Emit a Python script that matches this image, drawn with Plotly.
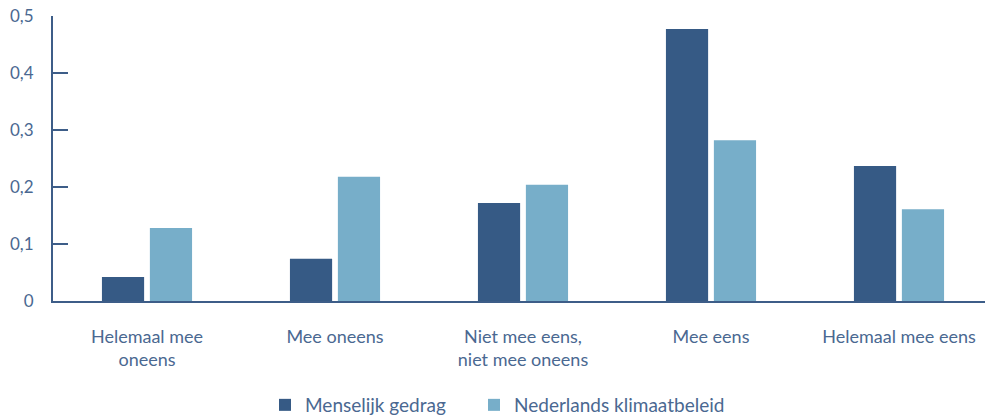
import plotly.graph_objects as go

categories = [
    "Helemaal mee<br>oneens",
    "Mee oneens",
    "Niet mee eens,<br>niet mee oneens",
    "Mee eens",
    "Helemaal mee eens",
]
menselijk_gedrag = [0.042, 0.074, 0.172, 0.477, 0.237]
nl_klimaatbeleid = [0.128, 0.218, 0.204, 0.282, 0.161]

tick_vals = [0, 0.1, 0.2, 0.3, 0.4, 0.5]
tick_text = ["0", "0,1", "0,2", "0,3", "0,4", "0,5"]

DARK = "#365a85"
LIGHT = "#77aec9"
AXIS = "#3d5d88"
TEXT = "#4a6891"

fig = go.Figure()
fig.add_trace(go.Bar(x=categories, y=menselijk_gedrag, name="Menselijk gedrag",
                     marker=dict(color=DARK, line=dict(width=0)), legend="legend"))
fig.add_trace(go.Bar(x=categories, y=nl_klimaatbeleid, name="Nederlands klimaatbeleid",
                     marker=dict(color=LIGHT, line=dict(width=0)), legend="legend2"))

W, H = 985, 411
legend_style = dict(
    orientation="h",
    xref="container", yref="container",
    xanchor="left",
    y=14 / H, yanchor="middle",
    font=dict(size=19, color=TEXT),
    bgcolor="rgba(0,0,0,0)",
)

# page body has an 8px margin, so the figure is sized/offset for that
fig.update_layout(
    width=W,
    height=H,
    margin=dict(l=45, r=0, t=8, b=118),
    barmode="group",
    bargap=0.49,
    bargroupgap=0.12,
    plot_bgcolor="white",
    paper_bgcolor="white",
    font=dict(family="Lato", size=18, color=TEXT),
    showlegend=True,
    legend=dict(legend_style, x=257 / W),
    legend2=dict(legend_style, x=466 / W),
    xaxis=dict(
        showline=True, linecolor=AXIS, linewidth=2,
        ticks="", showgrid=False, automargin=False,
        ticklabelstandoff=18,
        tickfont=dict(size=18, color=TEXT),
    ),
    yaxis=dict(
        range=[0, 0.5],
        tickvals=tick_vals, ticktext=tick_text,
        showline=True, linecolor=AXIS, linewidth=2,
        ticks="inside", ticklen=15, tickcolor=AXIS, tickwidth=2,
        showgrid=False, zeroline=False, automargin=False,
        ticklabelstandoff=14,
        ticklabeloverflow="allow",
        tickfont=dict(size=17, color=TEXT),
    ),
)

fig.write_html("out.html")
